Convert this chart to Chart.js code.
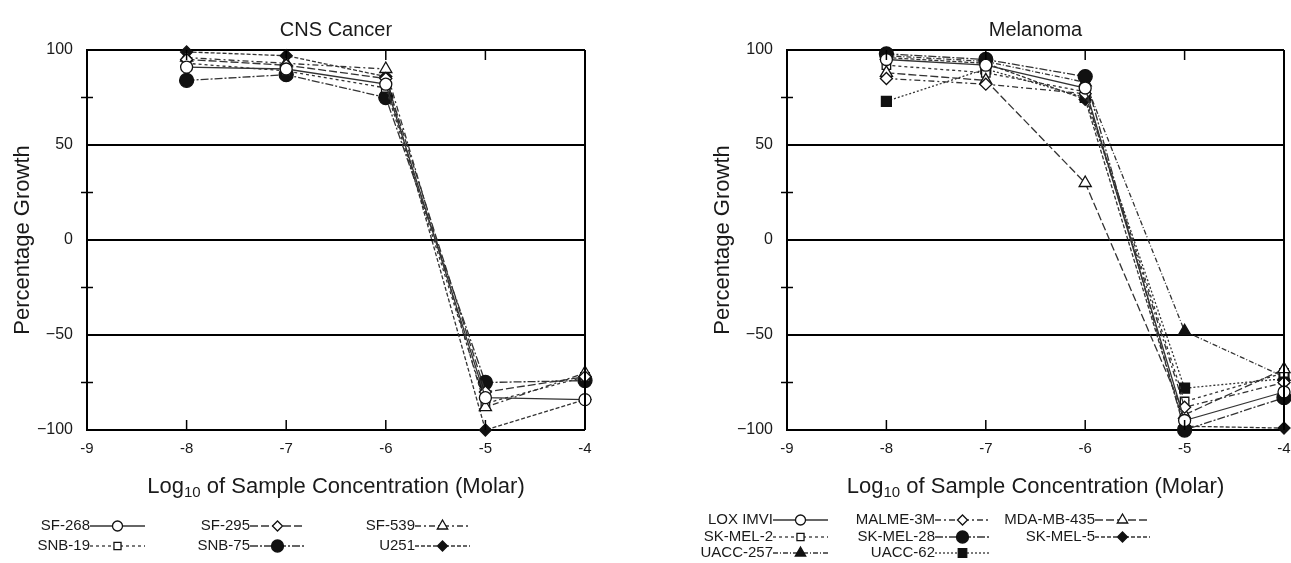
<!DOCTYPE html>
<html><head><meta charset="utf-8">
<script src="https://cdn.jsdelivr.net/npm/chart.js@4/dist/chart.umd.min.js"></script>
<style>
html,body{margin:0;padding:0;background:#fff;overflow:hidden;}
#wrap{position:relative;width:1291px;height:563px;overflow:hidden;}
#c1{position:absolute;left:0;top:0;}
#c2{position:absolute;left:700px;top:0;}
</style></head><body>
<div id="wrap"><canvas id="c1" width="700" height="563"></canvas><canvas id="c2" width="605" height="563"></canvas></div>
<script>
// ---- data ----
const concentrations = [-8, -7, -6, -5, -4];
const xTickValues = [-9, -8, -7, -6, -5, -4];
const yTickValues = [-100, -50, 0, 50, 100];
const yMinorTicks = [-75, -25, 25, 75];

const cnsTitle = 'CNS Cancer';
const cnsLabels = ['SF-268', 'SF-295', 'SF-539', 'SNB-19', 'SNB-75', 'U251'];
const sf268 = [91, 90, 82, -83, -84];
const sf295 = [95, 92, 85, -80, -72];
const sf539 = [96, 93, 90, -88, -70];
const snb19 = [93, 89, 80, -86, -72];
const snb75 = [84, 87, 75, -75, -74];
const u251  = [99, 97, 86, -100, -84];
const cnsSeries = [sf268, sf295, sf539, snb19, snb75, u251];

const melTitle = 'Melanoma';
const melLabels = ['LOX IMVI', 'MALME-3M', 'MDA-MB-435', 'SK-MEL-2', 'SK-MEL-28', 'SK-MEL-5', 'UACC-257', 'UACC-62'];
const loxImvi  = [95, 92, 80, -95, -80];
const malme3m  = [85, 82, 77, -88, -75];
const mdaMb435 = [88, 84, 30, -92, -68];
const skMel2   = [92, 88, 78, -85, -70];
const skMel28  = [98, 95, 86, -100, -83];
const skMel5   = [96, 93, 74, -98, -99];
const uacc257  = [97, 94, 83, -48, -72];
const uacc62   = [73, 90, 75, -78, -73];
const melSeries = [loxImvi, malme3m, mdaMb435, skMel2, skMel28, skMel5, uacc257, uacc62];

const xTitleMain = 'Log', xTitleSub = '10', xTitleRest = ' of Sample Concentration (Molar)';
const yTitle = 'Percentage Growth';

// ---- styles ----
const INK = '#1a1a1a';
const FONT = 'Liberation Sans, Arial, sans-serif';
const markerStyles = {
  'open-circle':   {pointStyle: 'circle',   fill: false, r: 6},
  'open-diamond':  {pointStyle: 'rectRot',  fill: false, r: 6},
  'open-triangle': {pointStyle: 'triangle', fill: false, r: 7},
  'open-square':   {pointStyle: 'rect',     fill: false, r: 6},
  'filled-circle': {pointStyle: 'circle',   fill: true,  r: 7},
  'filled-diamond':{pointStyle: 'rectRot',  fill: true,  r: 6},
  'filled-triangle':{pointStyle: 'triangle',fill: true,  r: 7},
  'filled-square': {pointStyle: 'rect',     fill: true,  r: 7}
};
const cnsMarkers = ['open-circle','open-diamond','open-triangle','open-square','filled-circle','filled-diamond'];
const cnsDashes = [[], [8,3], [6,3,2,3], [3,3], [8,2,2,2], [4,2]];
const melMarkers = ['open-circle','open-diamond','open-triangle','open-square','filled-circle','filled-diamond','filled-triangle','filled-square'];
const melDashes = [[], [6,3,2,3], [8,3], [3,3], [8,2,2,2], [4,2], [5,2,1,2], [2,2]];

function buildDatasets(labels, series, markers, dashes) {
  return labels.map((lab, i) => {
    const m = markerStyles[markers[i]];
    return {
      label: lab,
      data: concentrations.map((c, j) => ({x: c, y: series[i][j]})),
      borderColor: '#333',
      borderWidth: 1.3,
      borderDash: dashes[i],
      pointStyle: m.pointStyle,
      pointRadius: m.r,
      pointBorderWidth: 1.3,
      pointBorderColor: '#111',
      pointBackgroundColor: m.fill ? '#111' : '#fff',
      tension: 0,
      clip: false
    };
  });
}

function drawMarker(ctx, ds, x, y) {
  const opts = {pointStyle: ds.pointStyle, radius: ds.pointRadius - 1, borderWidth: ds.pointBorderWidth, rotation: 0};
  ctx.save();
  ctx.setLineDash([]);
  ctx.fillStyle = ds.pointBackgroundColor;
  ctx.strokeStyle = ds.pointBorderColor;
  ctx.lineWidth = ds.pointBorderWidth;
  Chart.helpers.drawPoint(ctx, opts, x, y);
  ctx.restore();
}

function makePanelPlugin(title, legendCfg) {
  return {
    id: 'panel',
    afterDraw(chart) {
      const ctx = chart.ctx;
      const ca = chart.chartArea;
      const xs = chart.scales.x, ys = chart.scales.y;
      const cx = (ca.left + ca.right) / 2;
      ctx.save();
      // right border
      ctx.strokeStyle = '#000';
      ctx.lineWidth = 2;
      ctx.beginPath(); ctx.moveTo(ca.right, ca.top); ctx.lineTo(ca.right, ca.bottom); ctx.stroke();
      // minor y ticks on left axis
      ctx.lineWidth = 1.5;
      yMinorTicks.forEach(v => {
        const py = ys.getPixelForValue(v);
        ctx.beginPath(); ctx.moveTo(ca.left - 6, py); ctx.lineTo(ca.left + 6, py); ctx.stroke();
      });
      // x ticks top and bottom
      xTickValues.forEach(v => {
        const px = xs.getPixelForValue(v);
        ctx.beginPath(); ctx.moveTo(px, ca.bottom); ctx.lineTo(px, ca.bottom - 10); ctx.stroke();
        ctx.beginPath(); ctx.moveTo(px, ca.top); ctx.lineTo(px, ca.top + 10); ctx.stroke();
      });
      // title
      ctx.fillStyle = INK;
      ctx.font = '20px ' + FONT;
      ctx.textAlign = 'center';
      ctx.textBaseline = 'middle';
      ctx.fillText(title, cx, 30);
      // x title with subscript
      const big = '22px ' + FONT, small = '15px ' + FONT;
      ctx.font = big; const w1 = ctx.measureText(xTitleMain).width; const w3 = ctx.measureText(xTitleRest).width;
      ctx.font = small; const w2 = ctx.measureText(xTitleSub).width;
      let x0 = cx - (w1 + w2 + w3) / 2;
      const base = 493;
      ctx.textAlign = 'left';
      ctx.textBaseline = 'alphabetic';
      ctx.font = big; ctx.fillText(xTitleMain, x0, base); x0 += w1;
      ctx.font = small; ctx.fillText(xTitleSub, x0, base + 4); x0 += w2;
      ctx.font = big; ctx.fillText(xTitleRest, x0, base);
      // legend
      ctx.font = '15px ' + FONT;
      chart.data.datasets.forEach((ds, i) => {
        const col = i % 3, row = Math.floor(i / 3);
        const tx = legendCfg.textEnds[col], ty = legendCfg.rows[row];
        ctx.fillStyle = INK;
        ctx.textAlign = 'right';
        ctx.textBaseline = 'middle';
        ctx.fillText(ds.label, tx, ty);
        ctx.save();
        ctx.strokeStyle = '#333';
        ctx.lineWidth = 1.3;
        ctx.setLineDash(ds.borderDash);
        ctx.beginPath(); ctx.moveTo(tx, ty); ctx.lineTo(tx + legendCfg.len, ty); ctx.stroke();
        ctx.restore();
        drawMarker(ctx, ds, tx + legendCfg.len / 2, ty);
      });
      ctx.restore();
    }
  };
}

function fmtY(v) { return v < 0 ? '\u2212' + Math.abs(v) : String(v); }
function fmtX(v) { return v < 0 ? '-' + Math.abs(v) : String(v); }

function makeChart(id, title, labels, series, markers, dashes, rightPad, legendCfg) {
  return new Chart(document.getElementById(id), {
    type: 'line',
    data: {datasets: buildDatasets(labels, series, markers, dashes)},
    options: {
      responsive: false,
      animation: false,
      events: [],
      layout: {padding: {top: 50, left: 0, right: rightPad, bottom: 0}},
      plugins: {legend: {display: false}, title: {display: false}, tooltip: {enabled: false}},
      scales: {
        x: {
          type: 'linear', min: -9, max: -4,
          afterFit(s) { s.height = 133; },
          afterBuildTicks(s) { s.ticks = xTickValues.map(v => ({value: v})); },
          ticks: {color: INK, font: {size: 15, family: FONT}, padding: 10, callback: v => fmtX(v), maxRotation: 0},
          grid: {display: false, drawTicks: false},
          border: {display: false}
        },
        y: {
          type: 'linear', min: -100, max: 100,
          afterFit(s) { s.width = 87; },
          afterBuildTicks(s) { s.ticks = yTickValues.map(v => ({value: v})); },
          ticks: {color: INK, font: {size: 16, family: FONT}, padding: 14, callback: v => fmtY(v)},
          grid: {color: '#000', lineWidth: 2, drawTicks: false},
          border: {display: true, color: '#000', width: 2},
          title: {display: true, text: yTitle, color: INK, font: {size: 22, family: FONT}, padding: {top: 10, bottom: 0}}
        }
      }
    },
    plugins: [makePanelPlugin(title, legendCfg)]
  });
}

makeChart('c1', cnsTitle, cnsLabels, cnsSeries, cnsMarkers, cnsDashes, 115,
  {textEnds: [90, 250, 415], rows: [526, 546], len: 55});
makeChart('c2', melTitle, melLabels, melSeries, melMarkers, melDashes, 21,
  {textEnds: [73, 235, 395], rows: [520, 537, 553], len: 55});
</script>
</body></html>
